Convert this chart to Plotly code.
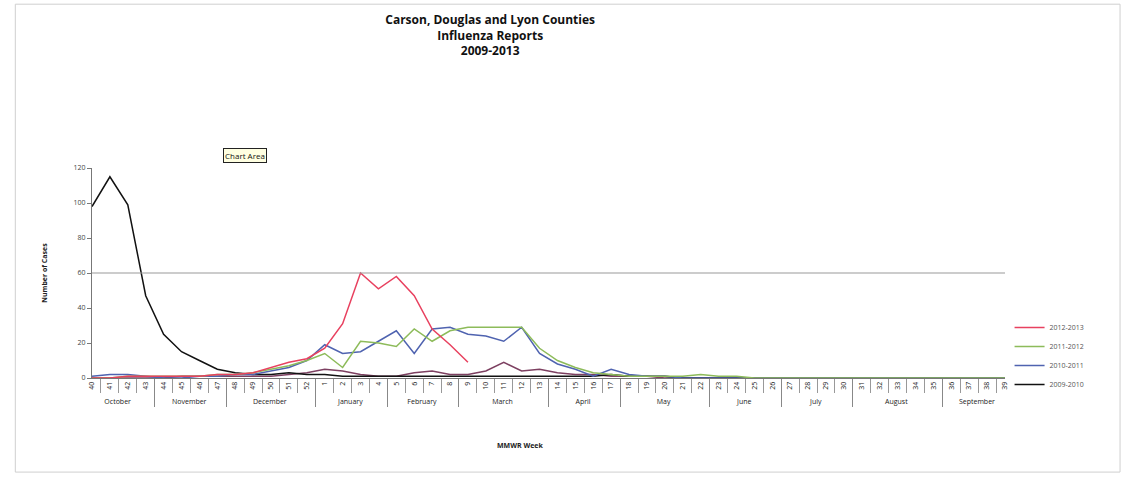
import plotly.graph_objects as go

# ---- data ----
months = (["October"] * 4 + ["November"] * 4 + ["December"] * 5 + ["January"] * 4 +
          ["February"] * 4 + ["March"] * 5 + ["April"] * 4 + ["May"] * 5 +
          ["June"] * 4 + ["July"] * 4 + ["August"] * 5 + ["September"] * 4)
weeks = [str(w) for w in list(range(40, 53)) + list(range(1, 40))]

s2012_2013 = [0, 0, 1, 1, 1, 1, 1, 2, 2, 3, 6, 9, 11, 17, 31, 60, 51, 58, 47, 28, 19, 9] + [None] * 30
s2011_2012_green = [0, 0, 1, 1, 1, 1, 1, 2, 2, 3, 5, 7, 10, 14, 6, 21, 20, 18, 28, 21, 27, 29,
                    29, 29, 29, 17, 10, 6, 3, 2, 1, 1, 1, 1, 2, 1, 1, 0, 0, 0, 0, 0,
                    0, 0, 0, 0, 0, 0, 0, 0, 0, 0]
s2010_2011_blue = [1, 2, 2, 1, 0, 0, 1, 1, 2, 2, 4, 6, 10, 19, 14, 15, 21, 27, 14, 28, 29, 25,
                   24, 21, 29, 14, 8, 5, 1, 5, 2, 1, 1, 0, 0, 0, 0, 0, 0, 0, 0, 0,
                   0, 0, 0, 0, 0, 0, 0, 0, 0, 0]
s_maroon = [0, 0, 0, 0, 0, 1, 1, 1, 1, 1, 1, 2, 3, 5, 4, 2, 1, 1, 3, 4, 2, 2,
            4, 9, 4, 5, 3, 2, 2, 1, 1, 1, 0, 0, 0, 0, 0, 0, 0, 0, 0, 0,
            0, 0, 0, 0, 0, 0, 0, 0, 0, 0]
s2009_2010 = [98, 115, 99, 47, 25, 15, 10, 5, 3, 2, 2, 3, 2, 2, 1, 1, 1, 1, 1, 1, 1, 1,
              1, 1, 1, 1, 1, 1, 1, 2, 1, 1, 1, 0, 0, 0, 0, 0, 0, 0, 0, 0,
              0, 0, 0, 0, 0, 0, 0, 0, 0, 0]
threshold = 60

x = [months, weeks]

fig = go.Figure()
fig.add_trace(go.Scatter(x=x, y=s_maroon, mode="lines", name="2011-2012 (low)",
                         line=dict(color="#7d4061", width=1.5), showlegend=False))
fig.add_trace(go.Scatter(x=x, y=s2009_2010, mode="lines", name="2009-2010",
                         line=dict(color="#111111", width=1.5)))
fig.add_trace(go.Scatter(x=x, y=s2010_2011_blue, mode="lines", name="2010-2011",
                         line=dict(color="#4f63b0", width=1.5)))
fig.add_trace(go.Scatter(x=x, y=s2011_2012_green, mode="lines", name="2011-2012",
                         line=dict(color="#8dbb5a", width=1.5)))
fig.add_trace(go.Scatter(x=x, y=s2012_2013, mode="lines", name="2012-2013",
                         line=dict(color="#e8415f", width=1.5)))

fig.add_hline(y=threshold, line=dict(color="#9a9a9a", width=1.2))

font = "Open Sans, Liberation Sans, sans-serif"
fig.update_layout(
    width=1132, height=480,
    margin=dict(l=92, r=127, t=168, b=102),
    paper_bgcolor="white", plot_bgcolor="white",
    font=dict(family=font, size=7, color="#333"),
    title=dict(text="<b>Carson, Douglas and Lyon Counties<br>Influenza Reports<br>2009-2013</b>",
               x=0.433, xanchor="center", y=0.95, yanchor="top",
               font=dict(size=12, color="#111", family=font)),
    legend=dict(x=1.005, y=0.31, xanchor="left", yanchor="top", traceorder="reversed",
                font=dict(size=7, color="#555"), bgcolor="rgba(0,0,0,0)"),
    showlegend=True,
)
fig.update_xaxes(type="multicategory", showline=True, linecolor="#777", linewidth=1,
                 showgrid=False, ticks="outside", tickson="boundaries", ticklen=14,
                 tickcolor="#999", tickangle=-90, tickfont=dict(size=7, color="#222"),
                 showdividers=True, dividercolor="#888", dividerwidth=1)
fig.update_yaxes(range=[0, 120], dtick=20, showline=True, linecolor="#777", linewidth=1,
                 showgrid=False, ticks="outside", ticklen=4, tickcolor="#777",
                 zeroline=False, tickfont=dict(size=7, color="#444"))

fig.add_annotation(x=-0.06, y=0.5, xref="paper", yref="paper", text="<b>Number of Cases</b>",
                   textangle=-90, showarrow=False, font=dict(size=7, color="#222"))
fig.add_annotation(x=0.469, y=-0.352, xref="paper", yref="paper", text="<b>MMWR Week</b>",
                   showarrow=False, font=dict(size=7, color="#222"))
fig.add_annotation(x=0.1435, y=1.095, xref="paper", yref="paper", text="Chart Area",
                   showarrow=False, font=dict(size=8, color="#111"),
                   bordercolor="#222", borderwidth=1, bgcolor="#ffffe1", borderpad=1)
fig.add_shape(type="rect", xref="paper", yref="paper", x0=-0.084, x1=1.126, y0=-0.448, y1=1.78,
              line=dict(color="#cfcfcf", width=1), layer="below")

fig.write_html("out.html")
